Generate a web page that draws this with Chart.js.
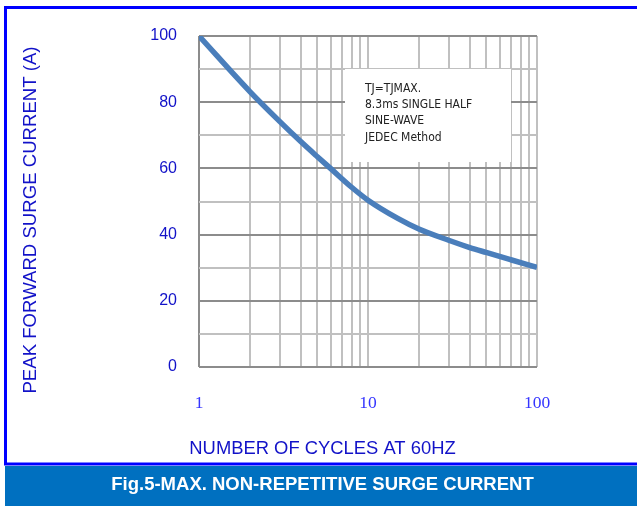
<!DOCTYPE html>
<html>
<head>
<meta charset="utf-8">
<script src="https://cdn.jsdelivr.net/npm/chart.js@4.4.1/dist/chart.umd.min.js"></script>
<style>
  html, body { margin: 0; padding: 0; background: #fff; }
  #wrap { position: relative; width: 637px; height: 506px; }
</style>
</head>
<body>
<div id="wrap"><canvas id="surge"></canvas></div>
<script>
// curve (cycles -> amps)
var CYCLES  = [1, 2, 3, 4, 5, 6, 8, 10, 15, 20, 30, 40, 50, 70, 100];
var CURRENT = [100, 83.2, 74.2, 68.1, 63.6, 60, 54.3, 50.4, 44.9, 41.7, 38.3, 36.1, 34.6, 32.4, 30.1];

var X_TICKS  = [1, 2, 3, 4, 5, 6, 7, 8, 9, 10, 20, 30, 40, 50, 60, 70, 80, 90, 100];
var X_LABELS = [1, 10, 100];
var Y_LABELS = [0, 20, 40, 60, 80, 100];

var NOTE_LINES = ['TJ=TJMAX.', '8.3ms SINGLE HALF', 'SINE-WAVE', 'JEDEC Method'];

var BLUE_TXT = '#1212c8';
var GRID_DARK = '#8c8c8c';
var GRID_LIGHT = '#c0c0c0';

var framePlugin = {
    id: 'frame',
    beforeDraw: function(chart) {
        var c = chart.ctx;
        c.save();
        c.fillStyle = '#fff';
        c.fillRect(0, 0, chart.width, chart.height);
        // blue outline
        c.strokeStyle = '#0000ff';
        c.lineWidth = 3;
        c.strokeRect(5.5, 7.5, 640, 456.5);
        // caption bar
        c.fillStyle = '#0070c0';
        c.fillRect(5, 466, 632, 40);
        c.fillStyle = '#fff';
        c.font = 'bold 18.5px "Liberation Sans", Arial, sans-serif';
        c.textAlign = 'center';
        c.textBaseline = 'middle';
        c.fillText('Fig.5-MAX. NON-REPETITIVE SURGE CURRENT', 322.5, 485);
        c.restore();
    },
    beforeDatasetsDraw: function(chart) {
        // note box sits over the grid
        var c = chart.ctx;
        c.save();
        c.fillStyle = '#fff';
        c.fillRect(345, 69, 166, 93);
        c.fillStyle = '#222';
        c.font = '12px "DejaVu Sans Condensed", "Noto Sans", sans-serif';
        c.textAlign = 'left';
        c.textBaseline = 'alphabetic';
        NOTE_LINES.forEach(function(t, i) {
            c.fillText(t, 365, 92 + i * 16.2);
        });
        c.restore();
    },
    afterDraw: function(chart) {
        var c = chart.ctx;
        c.save();
        c.fillStyle = BLUE_TXT;
        c.font = '18.4px "Liberation Sans", Arial, sans-serif';
        c.textAlign = 'center';
        c.textBaseline = 'middle';
        c.fillText('NUMBER OF CYCLES AT 60HZ', 322.5, 449);
        c.translate(31, 220);
        c.rotate(-Math.PI / 2);
        c.font = '18.6px "Liberation Sans", Arial, sans-serif';
        c.fillText('PEAK FORWARD SURGE CURRENT (A)', 0, 0);
        c.restore();
    }
};

new Chart(document.getElementById('surge'), {
    type: 'line',
    data: {
        datasets: [{
            data: CYCLES.map(function(x, i) { return { x: x, y: CURRENT[i] }; }),
            borderColor: '#4a7ebb',
            borderWidth: 5.5,
            pointRadius: 0,
            cubicInterpolationMode: 'monotone',
            fill: false
        }]
    },
    options: {
        responsive: true,
        maintainAspectRatio: false,
        animation: false,
        layout: { padding: { left: 0, top: 36, right: 100, bottom: 69 } },
        plugins: { legend: { display: false }, tooltip: { enabled: false } },
        scales: {
            x: {
                type: 'logarithmic',
                min: 1, max: 100,
                afterBuildTicks: function(s) {
                    s.ticks = X_TICKS.map(function(v) { return { value: v }; });
                },
                afterFit: function(s) { s.height = 70; },
                border: { display: false },
                grid: {
                    drawTicks: false,
                    lineWidth: 2,
                    color: function(ctx) { return ctx.tick && ctx.tick.value === 1 ? GRID_DARK : GRID_LIGHT; }
                },
                ticks: {
                    autoSkip: false,
                    maxRotation: 0,
                    padding: 26,
                    color: '#3535ff',
                    font: { family: '"Liberation Serif", "Times New Roman", serif', size: 17.5 },
                    callback: function(v) { return X_LABELS.indexOf(v) >= 0 ? String(v) : ''; }
                }
            },
            y: {
                min: 0, max: 100,
                afterFit: function(s) { s.width = 199; },
                border: { display: false },
                grid: {
                    drawTicks: false,
                    lineWidth: 2,
                    color: function(ctx) { return ctx.tick && ctx.tick.value % 20 === 0 ? GRID_DARK : GRID_LIGHT; }
                },
                ticks: {
                    stepSize: 10,
                    padding: 22,
                    color: BLUE_TXT,
                    font: { family: '"Liberation Sans", Arial, sans-serif', size: 16 },
                    callback: function(v) { return Y_LABELS.indexOf(v) >= 0 ? String(v) : ''; }
                }
            }
        }
    },
    plugins: [framePlugin]
});
</script>
</body>
</html>
